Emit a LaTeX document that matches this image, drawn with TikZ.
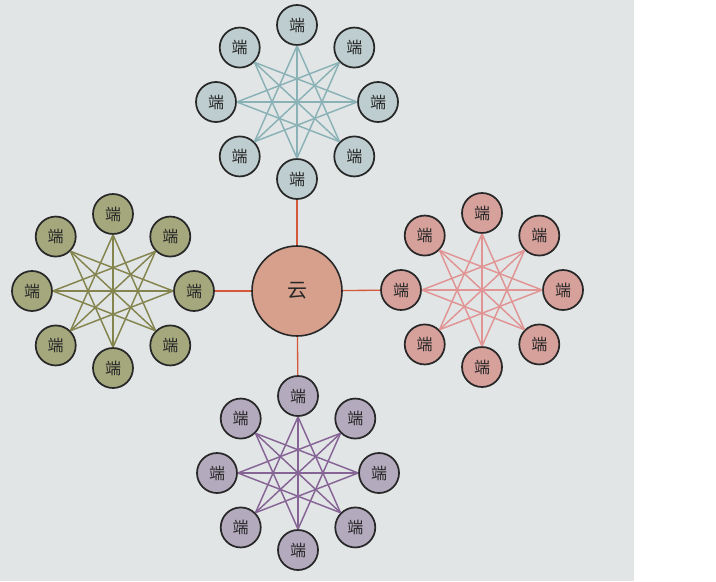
\documentclass[tikz,border=0pt]{standalone}
\usepackage{fontspec}
\newfontfamily\cjk{Noto Sans CJK SC}
\usetikzlibrary{calc}
\definecolor{paper}{RGB}{226,229,230}
\definecolor{ink}{RGB}{40,40,40}
\definecolor{topfill}{RGB}{190,205,207}
\definecolor{topline}{RGB}{138,178,182}
\definecolor{leftfill}{RGB}{164,168,124}
\definecolor{leftline}{RGB}{132,132,78}
\definecolor{rightfill}{RGB}{214,160,155}
\definecolor{rightline}{RGB}{224,148,148}
\definecolor{botfill}{RGB}{180,170,190}
\definecolor{botline}{RGB}{134,100,150}
\definecolor{cloudfill}{RGB}{214,160,140}
\definecolor{linkred}{RGB}{212,88,58}
\tikzstyle{term}=[circle,draw=ink,line width=1.3pt,fill=#1,minimum size=30pt,inner sep=0pt,text=ink,font=\cjk\fontsize{12}{12}\selectfont]
\tikzstyle{mesh}=[draw=#1,line width=1.1pt]
\tikzstyle{link}=[draw=linkred,line width=1pt]
% one group of eight terminals: name, centre, fill, line colour
\newcommand{\cluster}[4]{
  \foreach \k in {0,...,7}
    \node[term=#3] (#1\k) at ($(#2)+(\k*45:81 and 77)$) {端};
  \foreach \k/\d in {0/3,1/3,2/3,3/3,4/3,5/3,6/3,7/3,0/4,1/4,2/4,3/4}{
    \pgfmathtruncatemacro{\m}{mod(\k+\d,8)}
    \pgfmathtruncatemacro{\ak}{mod(540-45*\k,360)}
    \pgfmathtruncatemacro{\am}{mod(540-45*\m,360)}
    \draw[mesh=#4] (#1\k.\ak) -- (#1\m.\am);}
}

\begin{document}
\begin{tikzpicture}[x=0.75pt,y=-0.75pt]
    \useasboundingbox (0,0) rectangle (716,581);
    \fill[paper] (0,0) rectangle (634,581);

    \coordinate (ctop) at (297,102);
    \coordinate (cleft) at (113,291);
    \coordinate (cright) at (482,290);
    \coordinate (cbot) at (298,473);

    \cluster{t}{ctop}{topfill}{topline}
    \cluster{l}{cleft}{leftfill}{leftline}
    \cluster{r}{cright}{rightfill}{rightline}
    \cluster{b}{cbot}{botfill}{botline}

    \node[circle,draw=ink,line width=1.2pt,fill=cloudfill,minimum size=67.5pt,text=ink,font=\cjk\fontsize{15}{15}\selectfont] (yun) at (297,291) {云};

    \draw[link] (yun) -- (t2);
    \draw[link] (yun) -- (l0);
    \draw[link] (yun) -- (r4);
    \draw[link] (yun) -- (b6);
\end{tikzpicture}
\end{document}
